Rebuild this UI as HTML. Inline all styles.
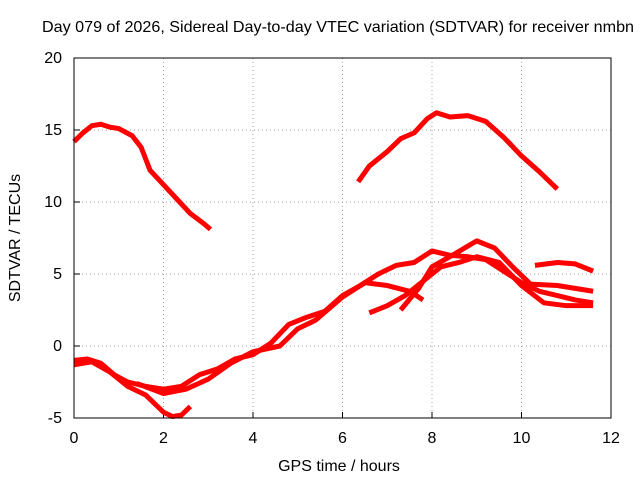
<!DOCTYPE html>
<html><head><meta charset="utf-8"><style>
body{margin:0;background:#fff}
svg{display:block}
text{font-family:"Liberation Sans",sans-serif;font-size:16px;fill:#000}
</style></head><body>
<svg id="chart" width="640" height="480">
<text x="42" y="32" textLength="592" lengthAdjust="spacingAndGlyphs">Day 079 of 2026, Sidereal Day-to-day VTEC variation (SDTVAR) for receiver nmbn</text>
<g id="grid"></g>
<g id="axes"></g>
<g id="series"></g>
<rect x="74" y="58" width="537" height="360" fill="none" stroke="#000"/>
<text x="339" y="471" text-anchor="middle">GPS time / hours</text>
<text transform="translate(20,238) rotate(-90)" text-anchor="middle">SDTVAR / TECUs</text>
</svg>
<script>
const xTicks=[0,2,4,6,8,10,12];
const yTicks=[-5,0,5,10,15,20];
const seriesA=[[0,14.2],[0.2,14.8],[0.4,15.3],[0.6,15.4],[0.8,15.2],[1.0,15.1],[1.3,14.6],[1.5,13.8],[1.7,12.2],[2.0,11.2],[2.3,10.2],[2.6,9.2],[2.9,8.5],[3.05,8.1]];
const seriesB=[[6.35,11.4],[6.6,12.5],[7.0,13.5],[7.3,14.4],[7.6,14.8],[7.9,15.8],[8.1,16.2],[8.4,15.9],[8.8,16.0],[9.2,15.6],[9.6,14.5],[10.0,13.2],[10.4,12.1],[10.8,10.9]];
const seriesC=[[10.3,5.6],[10.8,5.8],[11.2,5.7],[11.6,5.2]];
const seriesD=[[0,-1.0],[0.3,-0.9],[0.6,-1.2],[0.9,-2.0],[1.2,-2.5],[1.6,-2.8],[2.0,-3.0],[2.4,-2.8],[2.8,-2.0],[3.2,-1.6],[3.6,-0.9],[4.0,-0.6],[4.4,0.2],[4.8,1.5],[5.2,2.0],[5.6,2.4],[6.0,3.5],[6.4,4.2],[6.8,5.0],[7.2,5.6],[7.6,5.8],[8.0,6.6],[8.4,6.3],[8.8,6.2],[9.2,6.0],[9.6,5.2],[10.0,4.4],[10.4,3.8],[10.8,3.5],[11.2,3.2],[11.6,3.0]];
const seriesE=[[0,-1.3],[0.4,-1.1],[0.8,-1.8],[1.2,-2.8],[1.6,-3.4],[2.0,-4.6],[2.2,-4.9],[2.4,-4.8],[2.6,-4.2]];
const seriesF=[[1.4,-2.6],[2.0,-3.3],[2.5,-3.0],[3.0,-2.3],[3.5,-1.2],[4.0,-0.4],[4.6,0.0],[5.0,1.2],[5.4,1.8],[6.0,3.4],[6.5,4.4],[7.0,4.2],[7.5,3.8],[7.8,3.2]];
const seriesG=[[6.6,2.3],[7.0,2.8],[7.4,3.5],[7.8,4.5],[8.2,5.5],[8.6,5.8],[9.0,6.2],[9.5,5.8],[10.0,4.2],[10.5,3.0],[11.0,2.8],[11.6,2.8]];
const seriesH=[[7.3,2.5],[7.7,4.0],[8.0,5.5],[8.4,6.2],[9.0,7.3],[9.4,6.8],[9.8,5.5],[10.2,4.3],[10.8,4.2],[11.6,3.8]];
const allSeries=[seriesA,seriesB,seriesC,seriesD,seriesE,seriesF,seriesG,seriesH];
const X=v=>74+v*(537/12);
const Y=v=>418-(v+5)*(360/25);
const ns="http://www.w3.org/2000/svg";
const grid=document.getElementById('grid'),axes=document.getElementById('axes'),ser=document.getElementById('series');
function mk(tag,attrs,parent){const e=document.createElementNS(ns,tag);for(const k in attrs)e.setAttribute(k,attrs[k]);parent.appendChild(e);return e;}
xTicks.forEach(t=>{
 if(t>0&&t<12){const g=mk('line',{x1:X(t),x2:X(t),y1:58,y2:418,stroke:'#a0a0a0','stroke-dasharray':'1,3'},grid);
 
 }
 const l=mk('line',{x1:X(t),x2:X(t),y1:418,y2:412,stroke:'#000'},axes);
 
 
 const tx=mk('text',{x:X(t),y:443,'text-anchor':'middle'},axes);tx.textContent=t;
 
 
});
yTicks.forEach(t=>{
 if(t>-5&&t<20){const g=mk('line',{x1:74,x2:611,y1:Y(t),y2:Y(t),stroke:'#a0a0a0','stroke-dasharray':'1,3'},grid);
 
 }
 const l=mk('line',{x1:74,x2:80,y1:Y(t),y2:Y(t),stroke:'#000'},axes);
 
 
 const tx=mk('text',{x:62,y:Y(t)+5,'text-anchor':'end'},axes);tx.textContent=t;
 
 
});
allSeries.forEach(s=>{
 const p=mk('polyline',{points:s.map(d=>X(d[0])+','+Y(d[1])).join(' '),fill:'none',stroke:'#ff0000','stroke-width':5,'stroke-linejoin':'round'},ser);
 
 
});
</script>
</body></html>
